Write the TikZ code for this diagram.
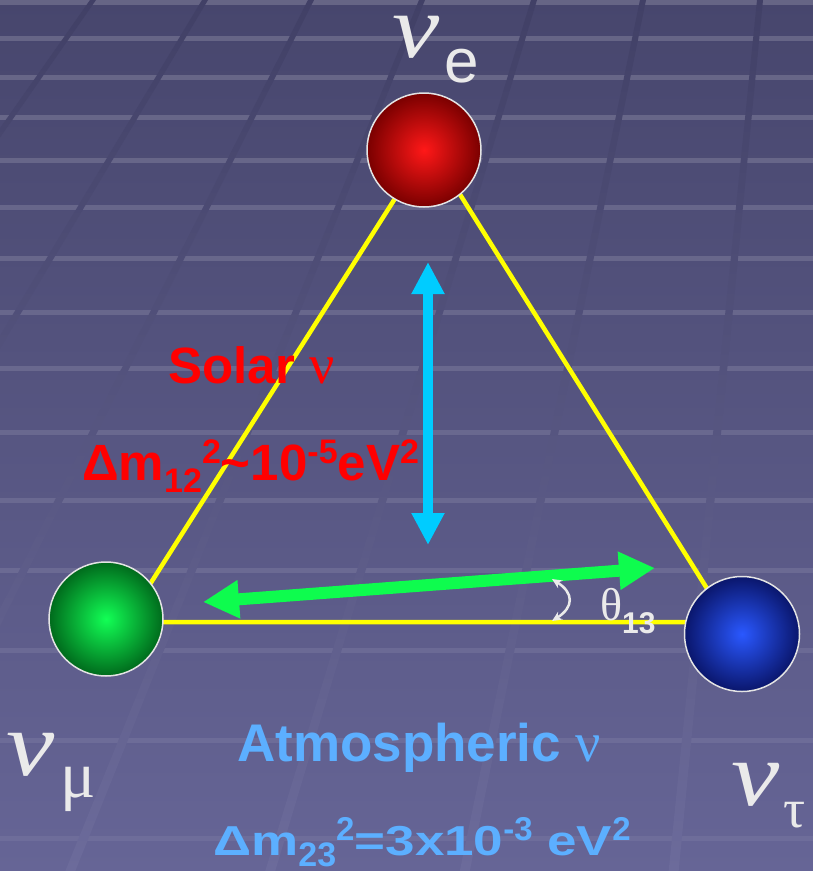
\documentclass[tikz,border=0pt]{standalone}
\usepackage{fontspec}
\setmainfont{Liberation Sans}
\newfontfamily\grk{Liberation Serif}
\usetikzlibrary{arrows.meta}
\definecolor{bgtop}{HTML}{47466D}
\definecolor{bgmid}{HTML}{575683}
\definecolor{bgbot}{HTML}{666596}
\definecolor{glTop}{HTML}{414066}
\definecolor{glMid}{HTML}{52517C}
\definecolor{glBot}{HTML}{6C6B9B}
\definecolor{triyellow}{HTML}{FFFF00}
\definecolor{arrcyan}{HTML}{00CCFF}
\definecolor{arrgreen}{HTML}{0EFC4E}
\definecolor{labwhite}{HTML}{EAEAEA}
\definecolor{solarred}{HTML}{FF0000}
\definecolor{atmblue}{HTML}{5CAFFF}
\definecolor{rim}{HTML}{E4E4E4}
\definecolor{redin}{HTML}{FF1818}
\definecolor{redout}{HTML}{7A0000}
\definecolor{grnin}{HTML}{12FF55}
\definecolor{grnout}{HTML}{006A1C}
\definecolor{bluin}{HTML}{2A58FF}
\definecolor{bluout}{HTML}{0A166C}
\newcommand{\supR}[1]{\raisebox{17pt}{\fontsize{34}{34}\selectfont #1}}
\newcommand{\subR}[1]{\raisebox{-12pt}{\fontsize{34}{34}\selectfont #1}}
\newcommand{\supB}[1]{\raisebox{15pt}{\fontsize{33}{33}\selectfont #1}}
\newcommand{\subB}[1]{\raisebox{-11pt}{\fontsize{34}{34}\selectfont #1}}
\newcommand{\sqz}[1]{\scalebox{1}[0.79]{#1}}
\newcommand{\nuglyph}{\scalebox{1.18}[1]{\itshape ν}}
\begin{document}
\begin{tikzpicture}[x=1pt,y=-1pt,
  stripe/.style={line width=5pt, white},
  edge/.style={draw=triyellow, line width=4.5pt, line join=miter},
  ball/.style={circle, minimum size=114pt, inner sep=0pt, draw=rim, line width=1.5pt, shade},
  cyanarrow/.style={draw=arrcyan, line width=10pt, >={Triangle[length=32pt,width=31pt]}, <->},
  greenarrow/.style={draw=arrgreen, line width=12pt, >={Triangle[length=36pt,width=36pt]}, <->},
  thetaarc/.style={draw=labwhite, line width=2.5pt, >={Stealth[length=10pt,width=9pt]}, <->},
  lab/.style={inner sep=0pt, anchor=base west, text=labwhite},
  redtext/.style={inner sep=0pt, anchor=base west, text=solarred, font=\bfseries},
  bluetext/.style={inner sep=0pt, anchor=base west, text=atmblue, font=\bfseries}]
\useasboundingbox (0,0) rectangle (813,871);
% background
\begin{scope}
\clip (0,0) rectangle (813,871);
\shade[top color=bgtop, middle color=bgmid, bottom color=bgbot] (0,0) rectangle (813,871);
\foreach \y in {2,38,77,117,160,207,258,312,368,432,500,570,650,740,838} {
  \pgfmathsetmacro\op{0.17-0.11*\y/871}
  \draw[stripe, opacity=\op] (0,\y) -- (813,\y);
}
\foreach \x in {93,205,311,422,534,643,760} {
  \pgfmathsetmacro\xe{870+1.785*(\x-870)}
  \shade[top color=glTop, middle color=glMid, bottom color=glBot]
    (\x-3,0) -- (\x+3,0) -- (\xe+5,871) -- (\xe-5,871) -- cycle;
}
\end{scope}
% triangle
\coordinate (tA) at (429,145);
\coordinate (tB) at (126,622);
\coordinate (tC) at (728,622);
\draw[edge] (tA) -- (tB) -- (tC) -- cycle;
% balls
\node[ball, inner color=redin, outer color=redout] (ve) at (424,150) {};
\node[ball, inner color=grnin, outer color=grnout] (vm) at (106,619) {};
\node[ball, inner color=bluin, outer color=bluout, minimum size=115pt] (vt) at (742,634) {};
% arrows
\coordinate (cyT) at (428,262);
\coordinate (cyB) at (428,545);
\draw[cyanarrow] (cyT) -- (cyB);
\coordinate (grL) at (203,602);
\coordinate (grR) at (655,568);
\draw[greenarrow] (grL) -- (grR);
\coordinate (thA) at (552,579);
\coordinate (thB) at (552,621);
\draw[thetaarc] (thA) .. controls (574,593) and (574,607) .. (thB);
% labels
\node[lab] (ve-lab) at (392,57) {\grk\fontsize{90}{90}\selectfont\makebox[52pt][l]{\nuglyph}\rmfamily\fontsize{62}{62}\selectfont\raisebox{-25pt}{e}};
\node[lab] (vm-lab) at (6,775) {\grk\fontsize{92}{92}\selectfont\makebox[54pt][l]{\nuglyph}\fontsize{66}{66}\selectfont\raisebox{-22pt}{μ}};
\node[lab] (vt-lab) at (731,805) {\grk\fontsize{92}{92}\selectfont\makebox[52pt][l]{\nuglyph}\fontsize{55}{55}\selectfont\raisebox{-22pt}{τ}};
\node[lab] (theta-lab) at (600,620) {\grk\fontsize{46}{46}\selectfont θ\rmfamily\bfseries\fontsize{30}{30}\selectfont\raisebox{-13pt}{13}};
\node[redtext] (solar-lab) at (168,383) {\fontsize{51}{51}\selectfont Solar {\grk\mdseries\fontsize{56}{56}\selectfont ν}};
\node[redtext] (solar-dm) at (82,480) {\fontsize{51}{51}\selectfont Δm\subR{12}\supR{2}\textasciitilde10\supR{-5}eV\supR{2}};
\node[bluetext] (atm-lab) at (237,761) {\fontsize{53}{53}\selectfont Atmospheric {\grk\mdseries\fontsize{56}{56}\selectfont ν}};
\node[bluetext] (atm-dm) at (213,855) {\fontsize{53}{53}\selectfont \sqz{Δm}\subB{23}\supB{2}\sqz{=3x10}\supB{-3}\sqz{\ eV}\supB{2}};
\end{tikzpicture}
\end{document}
